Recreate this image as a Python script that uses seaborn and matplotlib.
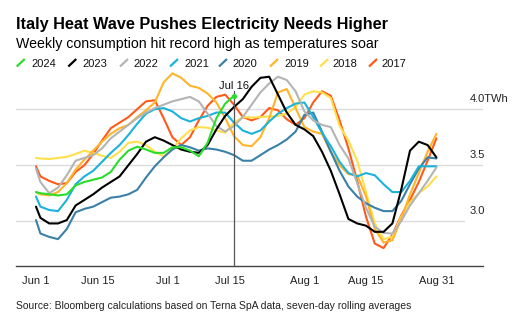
import numpy as np
import pandas as pd
import matplotlib
matplotlib.use("Agg")
import matplotlib.pyplot as plt
import seaborn as sns
from matplotlib.lines import Line2D

# ---------------- data (days since Jun 1, TWh, 7-day rolling average) ----------------
days = [0, 1, 3, 5, 7, 9, 11, 13, 15, 17, 19, 21, 23, 25, 27, 29, 31, 33, 35, 37, 39, 41,
        43, 45, 47, 49, 51, 53, 55, 57, 59, 61, 63, 65, 67, 69, 71, 73, 75, 77, 79, 81,
        83, 85, 87, 89, 91]

v2024 = [3.26, 3.25, 3.24, 3.23, 3.24, 3.32, 3.35, 3.37, 3.39, 3.44, 3.55, 3.63, 3.665,
         3.64, 3.61, 3.61, 3.66, 3.66, 3.63, 3.58, 3.70, 3.92, 4.05, 4.12]
v2023 = [3.13, 3.03, 2.98, 2.98, 3.01, 3.14, 3.19, 3.24, 3.30, 3.35, 3.40, 3.50, 3.60, 3.71,
         3.75, 3.72, 3.68, 3.64, 3.62, 3.61, 3.68, 3.82, 3.94, 4.02, 4.09, 4.20, 4.28, 4.29,
         4.13, 3.97, 3.86, 3.82, 3.76, 3.62, 3.45, 3.24, 3.02, 2.98, 2.96, 2.905, 2.905,
         2.98, 3.28, 3.63, 3.71, 3.68, 3.57]
v2022 = [3.47, 3.35, 3.25, 3.30, 3.41, 3.54, 3.565, 3.59, 3.65, 3.74, 3.80, 3.86, 3.92,
         3.97, 4.01, 4.04, 4.07, 4.09, 4.11, 4.07, 3.96, 3.85, 3.80, 3.85, 3.93, 4.04, 4.15,
         4.23, 4.29, 4.26, 4.16, 3.98, 3.90, 3.86, 3.84, 3.68, 3.56, 3.34, 3.12, 2.95, 2.895,
         2.89, 3.00, 3.14, 3.25, 3.36, 3.48]
v2021 = [3.22, 3.13, 3.10, 3.09, 3.19, 3.33, 3.40, 3.45, 3.53, 3.61, 3.68, 3.77, 3.87, 3.96,
         4.00, 4.01, 3.98, 3.92, 3.89, 3.92, 3.94, 3.97, 3.97, 3.88, 3.81, 3.78, 3.81, 3.89,
         3.96, 4.01, 4.05, 4.06, 3.93, 3.79, 3.67, 3.53, 3.43, 3.40, 3.43, 3.41, 3.33, 3.26,
         3.26, 3.36, 3.49, 3.49, 3.49]
v2020 = [3.01, 2.89, 2.86, 2.84, 2.93, 3.08, 3.11, 3.13, 3.17, 3.21, 3.22, 3.24, 3.28, 3.39,
         3.49, 3.57, 3.64, 3.68, 3.66, 3.63, 3.65, 3.64, 3.62, 3.59, 3.54, 3.54, 3.59, 3.64,
         3.68, 3.73, 3.80, 3.95, 3.97, 3.80, 3.62, 3.45, 3.31, 3.22, 3.16, 3.12, 3.09, 3.09,
         3.18, 3.33, 3.47, 3.57, 3.56]
v2019 = [3.26, 3.24, 3.23, 3.26, 3.34, 3.46, 3.55, 3.63, 3.71, 3.78, 3.83, 3.86, 3.93, 3.99,
         4.06, 4.24, 4.32, 4.28, 4.21, 4.19, 4.14, 4.06, 3.92, 3.76, 3.68, 3.67, 3.75, 3.92,
         4.15, 4.18, 4.01, 3.84, 3.80, 3.78, 3.62, 3.50, 3.42, 3.41, 3.22, 2.93, 2.81, 2.83,
         3.02, 3.24, 3.43, 3.62, 3.78]
v2018 = [3.565, 3.56, 3.555, 3.565, 3.575, 3.60, 3.63, 3.61, 3.585, 3.565, 3.62, 3.70, 3.71,
         3.68, 3.62, 3.58, 3.64, 3.74, 3.81, 3.84, 3.835, 3.81, 3.79, 3.88, 3.93, 3.925,
         3.93, 3.935, 3.94, 3.96, 4.02, 4.13, 4.16, 4.15, 4.10, 3.85, 3.72, 3.54, 3.26, 2.98,
         2.84, 2.86, 3.04, 3.17, 3.25, 3.31, 3.40]
v2017 = [3.49, 3.40, 3.36, 3.33, 3.34, 3.44, 3.50, 3.60, 3.72, 3.83, 3.88, 3.93, 4.00, 4.07,
         4.08, 3.92, 3.75, 3.68, 3.75, 3.90, 4.03, 4.11, 4.13, 4.04, 3.93, 3.90, 3.93, 4.01,
         3.99, 3.91, 3.86, 3.92, 4.06, 4.16, 4.12, 3.90, 3.65, 3.36, 3.04, 2.80, 2.76, 2.88,
         3.05, 3.19, 3.35, 3.54, 3.74]

years = ["2024", "2023", "2022", "2021", "2020", "2019", "2018", "2017"]
series = [v2024, v2023, v2022, v2021, v2020, v2019, v2018, v2017]
colors = ["#2BDD2B", "#000000", "#B4B4B4", "#1AB3DA", "#3A80A8", "#FFB42A", "#FFE04A", "#FF5A1A"]

tick_days = [0, 14, 30, 44, 61, 75, 91]
tick_labels = ["Jun 1", "Jun 15", "Jul 1", "Jul 15", "Aug 1", "Aug 15", "Aug 31"]
y_vals = [3.0, 3.5, 4.0]
y_labels = ["3.0", "3.5", "4.0TWh"]
marker_day = 45
marker_label = "Jul 16"

title = "Italy Heat Wave Pushes Electricity Needs Higher"
subtitle = "Weekly consumption hit record high as temperatures soar"
source = "Source: Bloomberg calculations based on Terna SpA data, seven-day rolling averages"

# ---------------- long-form table ----------------
rows = []
for yr, vals in zip(years, series):
    for d, v in zip(days, vals):
        rows.append({"day": d, "twh": v, "year": yr})
df = pd.DataFrame(rows)

# ---------------- figure ----------------
sns.set_style("white")
plt.rcParams["font.family"] = ["Liberation Sans", "DejaVu Sans"]

W, H = 526, 329
fig = plt.figure(figsize=(W / 100, H / 100), dpi=100)
fx = lambda px: px / W
fy = lambda py: 1 - py / H

ax_left, ax_right, ax_top, ax_bot = 16, 483, 70, 266
ax = fig.add_axes([fx(ax_left), fy(ax_bot), (ax_right - ax_left) / W, (ax_bot - ax_top) / H])

px_per_day = 4.4
day0_px = 36
ax.set_xlim((ax_left - day0_px) / px_per_day, (ax_right - day0_px) / px_per_day)
ax.set_ylim(2.60, 4.35)

# gridlines
grid_end = {3.0: 464, 3.5: 483, 4.0: 483}
for v in y_vals:
    ax.axhline(v, xmin=0, xmax=(grid_end[v] - ax_left) / (ax_right - ax_left),
               color="#DCDCDC", lw=1.0, zorder=0)

palette = dict(zip(years, colors))
sns.lineplot(data=df, x="day", y="twh", hue="year", hue_order=years[::-1],
             palette=palette, linewidth=1.5, legend=False, estimator=None,
             sort=False, ax=ax)

# end dot for 2024
ax.scatter([days[len(v2024) - 1]], [v2024[-1]], s=14, color=colors[0], zorder=5,
           linewidths=0)

# Jul 16 reference line + label
ax.axvline(marker_day, ymin=0, ymax=(ax_bot - 90.5) / (ax_bot - ax_top), color="#555555",
           lw=0.9, zorder=4)
ax.text(marker_day, (ax_bot - 89.3) / (ax_bot - ax_top), marker_label,
        transform=ax.get_xaxis_transform(), ha="center", va="baseline",
        fontsize=8, color="#111111")

# y labels (right, above gridlines)
for v, lab in zip(y_vals, y_labels):
    ax.annotate(lab, xy=(1, v), xycoords=("axes fraction", "data"),
                xytext=(-(ax_right - 469.5) * 0.72, 7.6 * 0.72), textcoords="offset points",
                ha="left", va="baseline", fontsize=8, color="#222222")

# axes styling
for s in ["left", "right", "top"]:
    ax.spines[s].set_visible(False)
ax.spines["bottom"].set_color("#444444")
ax.spines["bottom"].set_linewidth(1.0)
ax.set_yticks([])
ax.set_xticks(tick_days)
ax.set_xticklabels(tick_labels)
ax.tick_params(axis="x", length=3, width=0.8, color="#444444", labelsize=8,
               labelcolor="#222222", pad=4)
ax.set_xlabel("")
ax.set_ylabel("")

# titles
fig.text(fx(16), fy(29.3), title, fontsize=11.7, fontweight="bold", ha="left",
         va="baseline", color="#000000")
fig.text(fx(16), fy(47.7), subtitle, fontsize=10.2, ha="left", va="baseline",
         color="#000000")

# legend (manual)
leg_slash_x = [16.7, 68.3, 120, 170, 219, 270, 320, 369]
leg_text_x = [31.7, 82.7, 133.3, 184, 232.7, 284, 332.7, 381]
for yr, c, sx, tx in zip(years, colors, leg_slash_x, leg_text_x):
    fig.add_artist(Line2D([fx(sx), fx(sx + 8)], [fy(66.5), fy(59)],
                          transform=fig.transFigure, color=c, lw=1.6,
                          solid_capstyle="butt"))
    fig.text(fx(tx), fy(67.3), yr, fontsize=8, ha="left", va="baseline",
             color="#111111")

fig.text(fx(16.5), fy(309), source, fontsize=7.45, ha="left", va="baseline",
         color="#222222")

fig.savefig("out.png", dpi=100)
